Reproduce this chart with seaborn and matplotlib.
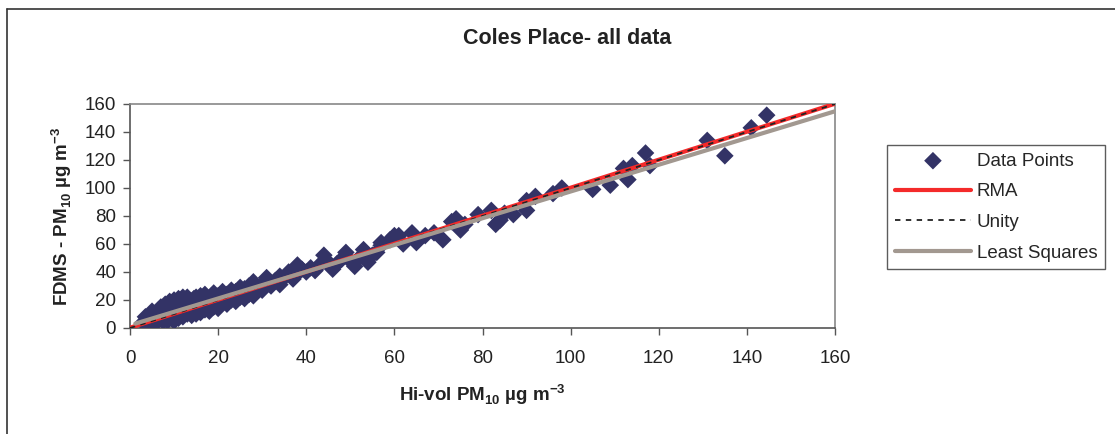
import matplotlib
matplotlib.use("Agg")
import matplotlib.pyplot as plt
from matplotlib.lines import Line2D
import seaborn as sns
import numpy as np
import pandas as pd

# Hi-vol vs FDMS PM10 pairs
hivol = [3, 3.5, 4, 4.5, 5, 5, 5.5, 6, 6, 6.5, 7, 7, 7.5, 7.5, 8, 8, 8.5, 8.5, 9, 9,
         9.5, 9.5, 10, 10, 10, 10.5, 10.5, 11, 11, 11, 11.5, 11.5, 12, 12, 12, 12.5, 12.5,
         13, 13, 13, 13.5, 14, 14, 14, 14.5, 14.5, 15, 15, 15, 15.5, 16, 16, 16, 16.5,
         17, 17, 17, 17.5, 18, 18, 18.5, 18.5, 19, 19, 19.5, 20, 20, 20, 21, 21, 21.5,
         22, 22, 23, 23, 23.5, 24, 24, 25, 25, 25.5, 26, 26, 27, 27, 28, 28, 28, 29, 30,
         30, 31, 31, 32, 33, 34, 34, 35, 36, 37, 38, 38, 39, 40, 41, 42, 43, 44, 45, 46,
         47, 48, 49, 50, 51, 52, 53, 54, 55, 56, 57, 57, 59, 60, 61, 62, 64, 65, 67, 69,
         71, 73, 74, 75, 76, 79, 82, 83, 84, 85, 87, 90, 90, 92, 96, 98, 105, 109, 112,
         113, 114, 117, 118, 131, 135, 141, 144.5]
fdms = [4, 8, 6, 3, 9, 12, 6, 4, 10, 13, 7, 15, 5, 11, 9, 17, 13, 5, 11, 19,
        7, 15, 12, 20, 5, 9, 17, 14, 21, 7, 11, 18, 16, 22, 8, 13, 20,
        10, 17, 22, 14, 12, 19, 9, 16, 21, 13, 22, 10, 18, 15, 23, 11, 20,
        13, 17, 24, 15, 20, 12, 23, 17, 15, 25, 20, 17, 23, 14, 19, 26, 22,
        17, 24, 20, 27, 23, 19, 26, 22, 29, 25, 21, 28, 24, 30, 26, 33, 23, 28, 31,
        27, 33, 36, 30, 34, 31, 37, 36, 40, 35, 39, 45, 42, 40, 43, 41, 45, 52, 47, 42,
        46, 49, 54, 48, 44, 50, 56, 47, 52, 54, 61, 59, 63, 66, 66, 60, 68, 61, 66, 68,
        63, 76, 78, 70, 74, 81, 84, 74, 77, 82, 81, 84, 91, 94, 96, 100, 99, 102, 114,
        106, 116, 125, 116, 134, 123, 143, 152]

# fitted lines
rma_slope, rma_intercept = 1.0, 0.2
unity_slope, unity_intercept = 1.0, 0.0
ls_slope, ls_intercept = 0.955, 2.0
rma_x = [0, 160]
unity_x = [0, 160]
ls_x = [1.2, 160]

xticks = np.arange(0, 161, 20)
yticks = np.arange(0, 161, 20)

df = pd.DataFrame({"hivol": hivol, "fdms": fdms})

sns.set_style("ticks")
plt.rcParams["font.family"] = ["Liberation Sans", "DejaVu Sans"]
plt.rcParams["mathtext.fontset"] = "custom"
plt.rcParams["mathtext.rm"] = "Liberation Sans"
plt.rcParams["mathtext.bf"] = "Liberation Sans:bold"

fig = plt.figure(figsize=(11.15, 4.34), dpi=100)
ax = fig.add_axes([130 / 1115, 1 - 328 / 434, 705 / 1115, 224 / 434])

sns.scatterplot(data=df, x="hivol", y="fdms", marker="D", s=80, color="#333366",
                edgecolor="none", ax=ax, label="Data Points", zorder=3)

rx = np.array(rma_x)
ax.plot(rx, rma_slope * rx + rma_intercept, color="#f42a2a", lw=3.0,
        label="RMA", zorder=4, solid_capstyle="round")
ux = np.array(unity_x)
ax.plot(ux, unity_slope * ux + unity_intercept, color="#222222", lw=1.3,
        ls=(0, (3, 3)), label="Unity", zorder=5)
lx = np.array(ls_x)
ax.plot(lx, ls_slope * lx + ls_intercept, color="#a29890", lw=3.0,
        label="Least Squares", zorder=6)

ax.set_xlim(0, 160)
ax.set_ylim(0, 160)
ax.set_xticks(xticks)
ax.set_yticks(yticks)
ax.tick_params(axis="both", direction="out", length=5, width=1, color="#555555",
               labelsize=13.5, labelcolor="#222222", pad=5)
ax.tick_params(axis="x", pad=11)
for s in ["left", "bottom"]:
    ax.spines[s].set_color("#555555")
    ax.spines[s].set_linewidth(1.2)
for s in ["top", "right"]:
    ax.spines[s].set_visible(True)
    ax.spines[s].set_color("#888888")
    ax.spines[s].set_linewidth(1.2)

ax.set_xlabel(r"Hi-vol PM$_{\mathbf{10}}$ µg m$^{\mathbf{-3}}$", fontsize=13.5,
              fontweight="bold", color="#222222", labelpad=11)
ax.set_ylabel(r"FDMS - PM$_{\mathbf{10}}$ µg m$^{\mathbf{-3}}$", fontsize=13.5,
              fontweight="bold", color="#222222", labelpad=8)

fig.text(567 / 1115, 1 - 38 / 434, "Coles Place- all data", fontsize=15.5,
         fontweight="bold", color="#222222", ha="center", va="center")

handles, labels = ax.get_legend_handles_labels()
ax.get_legend().remove()
leg = fig.legend(handles, labels, loc="upper left",
                 bbox_to_anchor=(887 / 1115, 1 - 145 / 434), frameon=True,
                 fancybox=False, edgecolor="#333333", fontsize=13.5,
                 handlelength=4.1, handletextpad=0.3, labelspacing=0.72,
                 borderpad=0.4, borderaxespad=0)
leg.get_frame().set_linewidth(1.0)

# outer chart border (left and top edges visible)
fig.add_artist(Line2D([7 / 1115, 7 / 1115], [0, 1 - 9 / 434], color="#333333", lw=1.2))
fig.add_artist(Line2D([7 / 1115, 1], [1 - 9 / 434, 1 - 9 / 434], color="#333333", lw=1.2))

fig.savefig("out.png", dpi=100)
